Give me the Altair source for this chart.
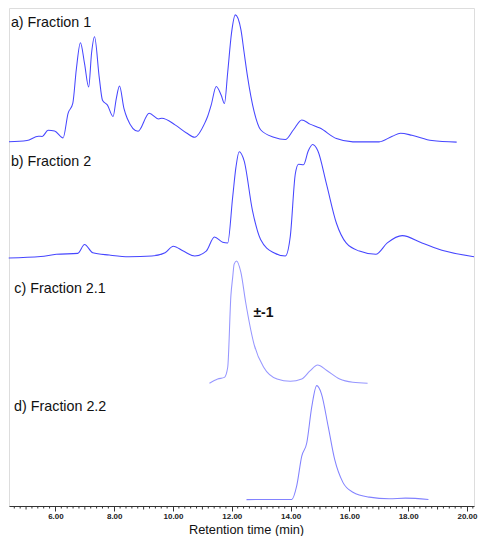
import altair as alt
import pandas as pd
import numpy as np

# ---- trace data (retention time in min, detector response in arbitrary units) ----
t_a = [4.42, 5.03, 5.42, 5.55, 5.75, 5.97, 6.26, 6.43, 6.59, 6.71, 6.85, 6.99, 7.13, 7.23, 7.33, 7.49,
       7.60, 7.77, 7.96, 8.07, 8.18, 8.33, 8.44, 8.81, 9.19, 9.51, 9.62, 10.07, 10.46, 10.74, 11.08,
       11.18, 11.30, 11.47, 11.64, 11.75, 11.86, 11.99, 12.12, 12.31, 12.42, 12.53, 12.76, 12.98,
       13.43, 13.82, 14.10, 14.38, 14.66, 15.00, 15.56, 16.12, 17.01, 17.46, 17.74, 18.13, 18.81, 19.65]
i_a = [0.5, 1.8, 6.2, 6.0, 12.2, 11.5, 4.5, 29.5, 39.5, 74.0, 101.2, 80.0, 56.2, 91.0, 107.2, 66.0,
       42.8, 37.8, 26.2, 44.5, 57.2, 34.5, 24.5, 11.2, 29.5, 23.8, 24.5, 17.8, 9.5, 5.2, 19.5,
       26.5, 38.0, 56.8, 47.8, 39.5, 71.0, 111.0, 129.5, 114.5, 91.0, 67.8, 31.2, 12.8,
       5.2, 2.8, 12.8, 22.8, 18.5, 14.5, 3.8, 0.5, 0.5, 6.2, 9.2, 7.2, 1.8, 0.2]

t_b = [4.41, 5.50, 6.03, 6.76, 6.99, 7.27, 7.83, 8.50, 9.28, 9.73, 10.01, 10.35, 10.74, 11.13, 11.41,
       11.69, 11.86, 12.03, 12.14, 12.25, 12.42, 12.70, 12.98, 13.43, 13.82, 13.99, 14.16, 14.27, 14.44,
       14.60, 14.75, 14.93, 15.22, 15.56, 15.89, 16.34, 16.90, 17.29, 17.80, 18.47, 19.25, 20.24]
i_b = [0.0, 1.5, 3.7, 4.7, 13.7, 5.3, 3.0, 1.3, 2.0, 5.3, 12.0, 7.0, 2.0, 7.0, 21.3,
       16.0, 15.3, 62.0, 92.0, 108.0, 98.7, 48.7, 18.7, 5.3, 2.0, 22.0, 85.3, 95.3, 94.7,
       108.7, 115.3, 108.7, 75.3, 35.3, 15.3, 7.0, 3.7, 15.3, 22.7, 15.3, 7.0, 1.3]

t_c = [11.24, 11.52, 11.75, 11.86, 11.97, 12.03, 12.08, 12.16, 12.31, 12.47, 12.76, 13.09, 13.54,
       13.99, 14.38, 14.66, 14.92, 15.22, 15.67, 16.12, 16.62]
i_c = [0.0, 4.3, 6.0, 16.0, 89.3, 107.6, 121.0, 124.3, 112.6, 82.6, 39.3, 16.0, 4.3,
       2.0, 4.3, 12.6, 18.6, 13.3, 4.3, 1.0, 0.0]

t_d = [12.50, 14.04, 14.21, 14.38, 14.55, 14.72, 14.89, 15.05, 15.28, 15.50, 15.78, 16.12, 16.68,
       17.35, 17.91, 18.69]
i_d = [0.0, 0.2, 14.2, 44.2, 57.5, 94.2, 115.8, 107.5, 74.2, 40.8, 17.5, 7.5, 2.5,
       0.8, 1.5, 0.2]

trace_names = ["a", "b", "c", "d"]
trace_offsets = [369.5, 252.0, 124.7, 6.5]
trace_colors = ["#4646ff", "#4646ff", "#9696ff", "#8282ff"]
labels = ["a) Fraction 1", "b) Fraction 2", "c) Fraction 2.1", "d) Fraction 2.2"]

tick_labels = [6, 8, 10, 12, 14, 16, 18, 20]

rows = []
for name, off, ts, vals in zip(trace_names, trace_offsets, [t_a, t_b, t_c, t_d], [i_a, i_b, i_c, i_d]):
    for k, (t, v) in enumerate(zip(ts, vals)):
        rows.append({"trace": name, "t": t, "y": off + v, "order": k})
df = pd.DataFrame(rows)

minor = np.round(np.arange(4.6, 20.21, 0.2), 1)
minor_df = pd.DataFrame({"t": [m for m in minor if abs(m - round(m)) > 1e-6]})
odd_df = pd.DataFrame({"t": [m for m in range(5, 21, 2)]})

W, H = 465, 498
FONT = "Liberation Sans"

xscale = alt.Scale(domain=[4.42, 20.24], nice=False, zero=False)
yscale = alt.Scale(domain=[0, 506], nice=False, zero=False)

lines = alt.Chart(df).mark_line(interpolate="monotone", strokeWidth=1.05).encode(
    x=alt.X("t:Q", scale=xscale,
            axis=alt.Axis(title="Retention time (min)", values=tick_labels, format=".2f",
                          grid=False, tickSize=5, tickColor="#333", domainColor="#333",
                          labelFont=FONT, labelFontSize=8, labelFontWeight="bold", labelColor="#222",
                          labelPadding=1.5, titleFont=FONT, titleFontSize=12.8, titleFontWeight="normal",
                          titleColor="#111", titleY=27, titleX=237, titleAlign="center",
                          titleBaseline="alphabetic")),
    y=alt.Y("y:Q", scale=yscale, axis=None),
    color=alt.Color("trace:N", scale=alt.Scale(domain=trace_names, range=trace_colors), legend=None),
    order="order:Q",
)

minor_ticks = alt.Chart(minor_df).mark_rule(color="#333", strokeWidth=1).encode(
    x="t:Q", y=alt.value(H), y2=alt.value(H + 2.5)
)
odd_ticks = alt.Chart(odd_df).mark_rule(color="#333", strokeWidth=1).encode(
    x="t:Q", y=alt.value(H), y2=alt.value(H + 3.5)
)

label_pos = [(1.9, 19.1), (1.9, 157.5), (5.3, 284.5), (5.1, 402.5)]
text_layers = []
for lab, (px, py) in zip(labels, label_pos):
    text_layers.append(
        alt.Chart(pd.DataFrame({"label": [lab]})).mark_text(
            align="left", baseline="alphabetic", font=FONT, fontSize=14.3, color="#111"
        ).encode(text="label:N", x=alt.value(px), y=alt.value(py))
    )
text_layers.append(
    alt.Chart(pd.DataFrame({"label": ["±-1"]})).mark_text(
        align="left", baseline="alphabetic", font=FONT, fontSize=14, fontWeight="bold", color="#111"
    ).encode(text="label:N", x=alt.value(244.4), y=alt.value(308.9))
)

chart = alt.layer(lines, minor_ticks, odd_ticks, *text_layers).properties(
    width=W, height=H,
    autosize=alt.AutoSizeParams(type="none"),
    padding={"left": 1, "top": 0, "right": 4, "bottom": 30},
).configure_view(stroke=None).configure(background="white")

chart.save("out.html", embed_options={"renderer": "svg", "actions": False})
